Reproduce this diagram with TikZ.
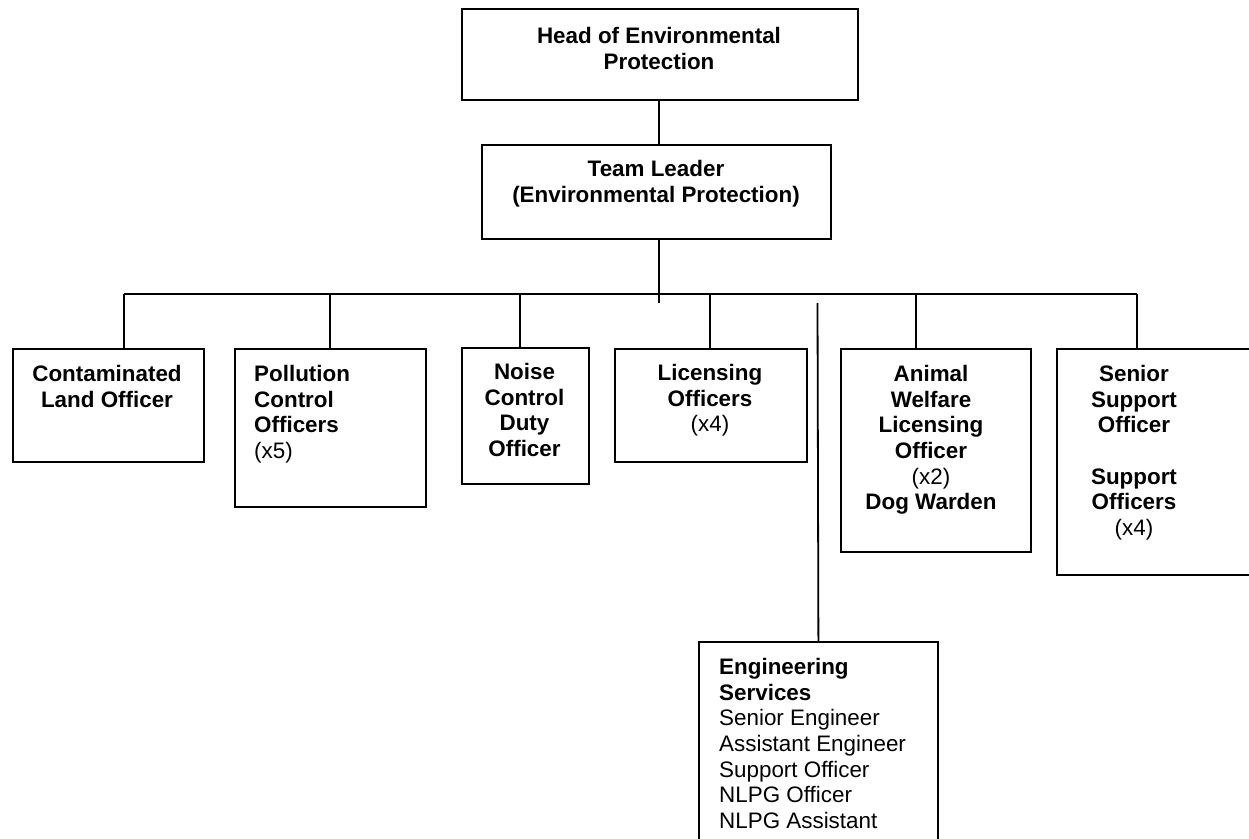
\documentclass[tikz,border=0pt]{standalone}
\usepackage{fontspec}
\setmainfont{Liberation Sans}
\newcommand\orgfs{\fontsize{22.4pt}{25.7pt}\selectfont}
\begin{document}
\begin{tikzpicture}[x=1pt,y=-1pt,
  orgbox/.style={draw=black,line width=1.8pt,rectangle,inner sep=0pt,anchor=north west,fill=none},
  ctxt/.style={inner sep=0pt,anchor=north,align=center,font=\orgfs\bfseries},
  ltxt/.style={inner sep=0pt,anchor=north west,align=left,font=\orgfs\bfseries},
  conn/.style={draw=black,line width=1.8pt}]
\useasboundingbox (0,0) rectangle (1249,838);
\clip (0,0) rectangle (1249,838);
\fill[white] (0,0) rectangle (1249,838);

% boxes
\node[orgbox,minimum width=396pt,minimum height=91pt] (head) at (461,8) {};
\node[orgbox,minimum width=349pt,minimum height=94pt] (tl) at (481,144) {};
\node[orgbox,minimum width=191pt,minimum height=113pt] (cont) at (12,348) {};
\node[orgbox,minimum width=191pt,minimum height=158pt] (poll) at (234,348) {};
\node[orgbox,minimum width=127pt,minimum height=136pt] (noise) at (461,347) {};
\node[orgbox,minimum width=192pt,minimum height=113pt] (lic) at (614,348) {};
\node[orgbox,minimum width=190pt,minimum height=203pt] (anim) at (840,348) {};
\node[orgbox,minimum width=214pt,minimum height=226pt] (sen) at (1056,348) {};
\node[orgbox,minimum width=239pt,minimum height=220pt] (eng) at (698,641) {};

% texts
\node[ctxt] (headT) at (659,27) {Head of Environmental\\Protection};
\node[ctxt] (tlT) at (656,160) {Team Leader\\(Environmental Protection)};
\node[ctxt] (contT) at (107,365) {Contaminated\\Land Officer};
\node[ltxt] (pollT) at (254,365) {Pollution\\Control\\Officers\\\mdseries (x5)};
\node[ctxt] (noiseT) at (524.5,363) {Noise\\Control\\Duty\\Officer};
\node[ctxt] (licT) at (710,364) {Licensing\\Officers\\\mdseries (x4)};
\node[ctxt] (animT) at (931,365) {Animal\\Welfare\\Licensing\\Officer\\\mdseries (x2)\\Dog Warden};
\node[ctxt] (senT) at (1134,365) {Senior\\Support\\Officer\\[25.7pt]Support\\Officers\\\mdseries (x4)};
\node[ltxt] (engT) at (719,658) {Engineering\\Services\\\mdseries Senior Engineer\\\mdseries Assistant Engineer\\\mdseries Support Officer\\\mdseries NLPG Officer\\\mdseries NLPG Assistant};

% connectors
\coordinate (stemEnd) at (659,303);
\coordinate (b1) at (124,294);
\coordinate (b2) at (330,294);
\coordinate (b3) at (520,294);
\coordinate (b4) at (710,294);
\coordinate (b5) at (916,294);
\coordinate (b6) at (1137,294);
\coordinate (engTop) at (817.5,303);

\draw[conn] (stemEnd |- head.south) -- (stemEnd |- tl.north);
\draw[conn] (stemEnd |- tl.south) -- (stemEnd);
\draw[conn] (b1) -- (b6);
\draw[conn] (b1) -- (b1 |- cont.north);
\draw[conn] (b2) -- (b2 |- poll.north);
\draw[conn] (b3) -- (b3 |- noise.north);
\draw[conn] (b4) -- (b4 |- lic.north);
\draw[conn] (b5) -- (b5 |- anim.north);
\draw[conn] (b6) -- (b6 |- sen.north);
\draw[conn] (engTop) -- (eng.north);
\end{tikzpicture}
\end{document}
